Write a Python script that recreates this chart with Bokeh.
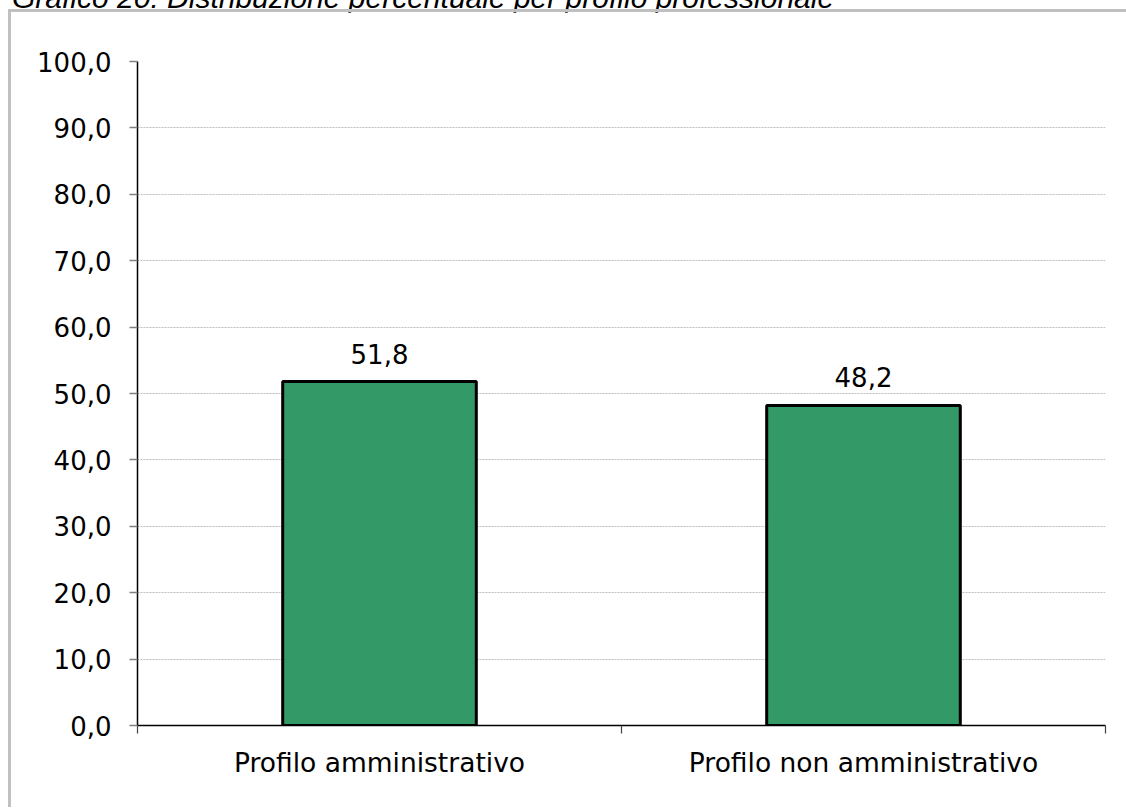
from bokeh.plotting import figure
from bokeh.models import FixedTicker, ColumnDataSource, Div
from bokeh.layouts import column
from bokeh.embed import file_html
from bokeh.resources import INLINE
from bokeh.core.properties import value

# ---- data ----
title_text = "Grafico 20: Distribuzione percentuale per profilo professionale"
categories = ["Profilo amministrativo", "Profilo non amministrativo"]
values = [51.8, 48.2]
y_ticks = [0, 10, 20, 30, 40, 50, 60, 70, 80, 90, 100]

FONT = "DejaVu Sans"
xs = [i + 0.5 for i in range(len(categories))]
labels = [f"{v:.1f}".replace(".", ",") for v in values]
src = ColumnDataSource(dict(x=xs, top=values, label=labels))

W, H = 1115, 795
p = figure(width=W, height=H, output_backend="svg", toolbar_location=None,
           x_range=(0, len(categories)), y_range=(0, 100),
           min_border_left=126, min_border_right=W - (1105 - 11),
           min_border_top=49, min_border_bottom=H - (725 - 12))
p.outline_line_color = None
p.background_fill_color = "white"
p.border_fill_color = "white"

p.vbar(x="x", top="top", width=0.4, bottom=0, source=src,
       fill_color="#339966", line_color="black", line_width=3)
p.text(x="x", y="top", text="label", source=src, text_align="center",
       text_baseline="alphabetic", y_offset=-28,
       text_font=value(FONT), text_font_size="26px", text_color="black")

# y axis
p.yaxis.ticker = FixedTicker(ticks=y_ticks)
p.yaxis.major_label_overrides = {t: f"{t:.1f}".replace(".", ",") for t in y_ticks}
p.yaxis.major_label_text_font = FONT
p.yaxis.major_label_text_font_size = "26px"
p.yaxis.major_label_text_color = "black"
p.yaxis.major_label_standoff = 18
p.yaxis.major_tick_out = 8
p.yaxis.major_tick_in = 0
p.yaxis.major_tick_line_color = "#808080"
p.yaxis.major_tick_line_width = 1.5
p.yaxis.minor_tick_line_color = None
p.yaxis.axis_line_color = "black"
p.yaxis.axis_line_width = 1.5

# x axis
p.xaxis.ticker = FixedTicker(ticks=xs, minor_ticks=list(range(len(categories) + 1)))
p.xaxis.major_label_overrides = {x: c for x, c in zip(xs, categories)}
p.xaxis.major_label_text_font = FONT
p.xaxis.major_label_text_font_size = "26.5px"
p.xaxis.major_label_text_color = "black"
p.xaxis.major_label_standoff = 13
p.xaxis.major_tick_out = 0
p.xaxis.major_tick_in = 0
p.xaxis.minor_tick_out = 8
p.xaxis.minor_tick_in = 0
p.xaxis.minor_tick_line_color = "#404040"
p.xaxis.minor_tick_line_width = 1.2
p.xaxis.axis_line_color = "black"
p.xaxis.axis_line_width = 1.5

p.xgrid.grid_line_color = None
p.ygrid.ticker = FixedTicker(ticks=y_ticks[1:])
p.ygrid.grid_line_color = "#bfbfbf"
p.ygrid.grid_line_dash = "2 1"
p.ygrid.grid_line_width = 1

title = Div(text=title_text, margin=(-23, 0, 0, 12), height=32, width=1000,
            styles={"font-family": "Liberation Sans", "font-style": "italic",
                    "font-size": "30px", "color": "black", "white-space": "nowrap"})

framed = column(p, margin=(0, 0, 0, 8),
                styles={"border-left": "3px solid #c0c0c0",
                        "border-top": "3px solid #c0c0c0"})

layout = column(title, framed, spacing=0)
open("out.html", "w").write(file_html(layout, INLINE))
